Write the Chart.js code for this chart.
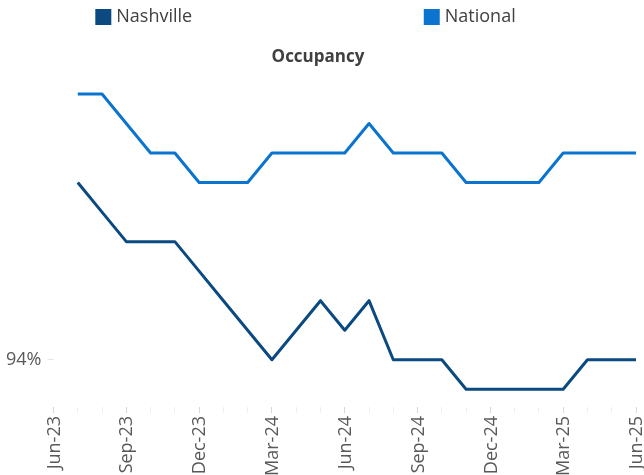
<!DOCTYPE html>
<html lang="en">
<head>
    <meta charset="UTF-8">
    <title>Occupancy</title>
    <style>
        html, body {
            margin: 0;
            padding: 0;
            background: #ffffff;
            overflow: hidden;
        }
        canvas {
            display: block;
        }
    </style>
</head>
<body>

<canvas id="occupancyChart" width="644" height="475"></canvas>

<script src="https://cdn.jsdelivr.net/npm/chart.js"></script>

<script>
    // months on the axis (only every third one gets a label)
    const months = [
        'Jun-23', 'Jul-23', 'Aug-23', 'Sep-23', 'Oct-23', 'Nov-23', 'Dec-23',
        'Jan-24', 'Feb-24', 'Mar-24', 'Apr-24', 'May-24', 'Jun-24',
        'Jul-24', 'Aug-24', 'Sep-24', 'Oct-24', 'Nov-24', 'Dec-24',
        'Jan-25', 'Feb-25', 'Mar-25', 'Apr-25', 'May-25', 'Jun-25'
    ];

    // occupancy in %
    const nashville = [
        null, 97.0, 96.5, 96.0, 96.0, 96.0, 95.5,
        95.0, 94.5, 94.0, 94.5, 95.0, 94.5,
        95.0, 94.0, 94.0, 94.0, 93.5, 93.5,
        93.5, 93.5, 93.5, 94.0, 94.0, 94.0
    ];
    const national = [
        null, 98.5, 98.5, 98.0, 97.5, 97.5, 97.0,
        97.0, 97.0, 97.5, 97.5, 97.5, 97.5,
        98.0, 97.5, 97.5, 97.5, 97.0, 97.0,
        97.0, 97.0, 97.5, 97.5, 97.5, 97.5
    ];

    const yTicks = [94];

    const FONT = '"Open Sans", "Liberation Sans", sans-serif';
    const GREY = '#595959';

    // legend spread out like the original, boxes + names drawn from the datasets
    const spreadLegend = {
        id: 'spreadLegend',
        afterDraw(chart) {
            const ctx = chart.ctx;
            const starts = [0.148, 0.658];
            ctx.save();
            ctx.font = '18px ' + FONT;
            ctx.textBaseline = 'middle';
            chart.data.datasets.forEach((ds, i) => {
                const x = chart.width * starts[i];
                ctx.fillStyle = ds.borderColor;
                ctx.fillRect(x, 9, 16, 16);
                ctx.fillStyle = '#404040';
                ctx.fillText(ds.label, x + 21, 17);
            });
            ctx.restore();
        }
    };

    new Chart(document.getElementById('occupancyChart'), {
        type: 'line',
        data: {
            labels: months,
            datasets: [{
                label: 'Nashville',
                data: nashville,
                borderColor: '#0b4a80',
                borderWidth: 3,
                pointRadius: 0,
                tension: 0,
                borderJoinStyle: 'round',
                fill: false
            }, {
                label: 'National',
                data: national,
                borderColor: '#0b74cf',
                borderWidth: 3,
                pointRadius: 0,
                tension: 0,
                borderJoinStyle: 'round',
                fill: false
            }]
        },
        options: {
            responsive: false,
            animation: false,
            layout: {
                padding: { top: 42, right: 8, left: 0, bottom: 0 }
            },
            plugins: {
                legend: { display: false },
                tooltip: { enabled: false },
                title: {
                    display: true,
                    text: 'Occupancy',
                    color: '#404040',
                    font: { family: FONT, size: 17, weight: 'bold' },
                    padding: { top: 5, bottom: 0 }
                }
            },
            scales: {
                x: {
                    offset: false,
                    afterFit: (scale) => {
                        scale.height = 68;
                        scale.paddingLeft = 0;
                        scale.paddingRight = 0;
                    },
                    border: { display: false },
                    grid: {
                        drawOnChartArea: false,
                        tickLength: 6,
                        color: (c) => (c.index % 3 === 0 ? '#d9d9d9' : '#efefef')
                    },
                    ticks: {
                        autoSkip: false,
                        maxRotation: 90,
                        minRotation: 90,
                        labelOffset: 1,
                        padding: 3,
                        color: GREY,
                        font: { family: FONT, size: 18 },
                        callback: function (value, index) {
                            return index % 3 === 0 ? months[index] : '';
                        }
                    }
                },
                y: {
                    min: 93.2,
                    max: 98.95,
                    afterFit: (scale) => { scale.width = 53.5; },
                    afterBuildTicks: (scale) => {
                        scale.ticks = yTicks.map(v => ({ value: v }));
                    },
                    border: { display: false },
                    grid: {
                        drawOnChartArea: false,
                        tickLength: 6,
                        color: '#e6e6e6'
                    },
                    ticks: {
                        color: GREY,
                        padding: 6,
                        font: { family: FONT, size: 18 },
                        callback: (v) => v + '%'
                    }
                }
            }
        },
        plugins: [spreadLegend]
    });
</script>

</body>
</html>
